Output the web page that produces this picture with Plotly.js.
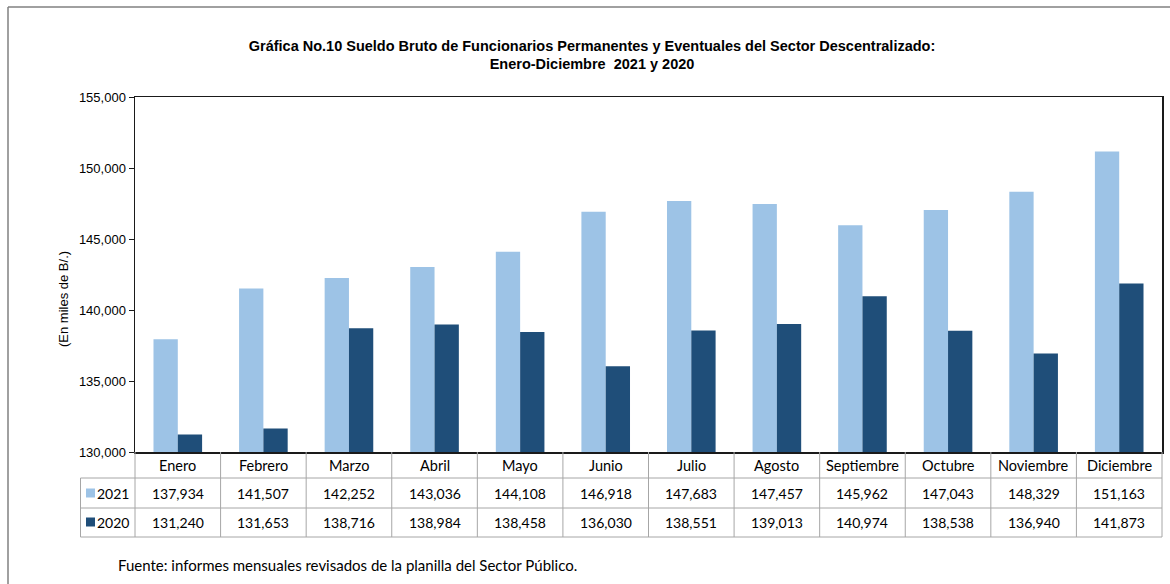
<!DOCTYPE html>
<html>
<head>
<meta charset="utf-8">
<script src="https://cdn.plot.ly/plotly-3.0.1.min.js"></script>
<style>html,body{margin:0;padding:0;background:#fff;}#chart{width:1170px;height:584px;}</style>
</head>
<body>
<div id="chart"></div>
<script>
const months = ['Enero','Febrero','Marzo','Abril','Mayo','Junio','Julio','Agosto','Septiembre','Octubre','Noviembre','Diciembre'];
const values2021 = [137934,141507,142252,143036,144108,146918,147683,147457,145962,147043,148329,151163];
const values2020 = [131240,131653,138716,138984,138458,136030,138551,139013,140974,138538,136940,141873];
const seriesNames = ['2021','2020'];
const yTicks = [130000,135000,140000,145000,150000,155000];
const titleText = 'Gráfica No.10 Sueldo Bruto de Funcionarios Permanentes y Eventuales del Sector Descentralizado:<br>Enero-Diciembre  2021 y 2020';
const yTitle = '(En miles de B/.)';
const sourceText = 'Fuente: informes mensuales revisados de la planilla del Sector Público.';

const colors = ['#9DC3E6','#1F4E79'];
const W = 1170, H = 584;
const L = 135, R = 1162, T = 97, B = 452;
const px = x => (x - L) / (R - L);
const py = y => (B - y) / (B - T);
const tableFont = {family:'Lato, Carlito, Calibri, sans-serif', size:14, color:'#000'};
const headFont = {family:'Lato, Carlito, Calibri, sans-serif', size:14.5, color:'#000'};
const srcFont = {family:'Lato, Carlito, Calibri, sans-serif', size:15, color:'#000'};
const gridCol = '#a6a6a6';

const fmt = v => v.toLocaleString('en-US');

const traces = [values2021, values2020].map((vals, k) => ({
  type:'bar', x: months, y: vals, name: seriesNames[k],
  marker:{color: colors[k], line:{width:0}},
  hoverinfo:'x+y'
}));

const annotations = [];
const shapes = [];
const rowCenters = [py(465), py(493), py(522)];
months.forEach((m, i) => {
  annotations.push({x:m, xref:'x', y:rowCenters[0], yref:'paper', text:m, showarrow:false, font:headFont, xanchor:'center', yanchor:'middle'});
  annotations.push({x:m, xref:'x', y:rowCenters[1], yref:'paper', text:fmt(values2021[i]), showarrow:false, font:tableFont, xanchor:'center', yanchor:'middle'});
  annotations.push({x:m, xref:'x', y:rowCenters[2], yref:'paper', text:fmt(values2020[i]), showarrow:false, font:tableFont, xanchor:'center', yanchor:'middle'});
});
seriesNames.forEach((s, k) => {
  annotations.push({x:px(95), xref:'paper', y:rowCenters[k+1], yref:'paper', text:s, showarrow:false, font:tableFont, xanchor:'left', yanchor:'middle'});
  shapes.push({type:'rect', xref:'paper', yref:'paper', x0:px(86), x1:px(95), y0:rowCenters[k+1]-4.5/(B-T), y1:rowCenters[k+1]+4.5/(B-T), fillcolor:colors[k], line:{width:0}});
});
const n = months.length;
for (let k = 0; k <= n; k++) {
  shapes.push({type:'line', xref:'paper', yref:'paper', x0:k/n, x1:k/n, y0:0, y1:py(537), line:{color:gridCol, width:1}});
}
[478, 508, 537].forEach(yy => {
  shapes.push({type:'line', xref:'paper', yref:'paper', x0:px(80.5), x1:1, y0:py(yy), y1:py(yy), line:{color:gridCol, width:1}});
});
shapes.push({type:'line', xref:'paper', yref:'paper', x0:px(80.5), x1:px(80.5), y0:py(478), y1:py(537), line:{color:gridCol, width:1}});
shapes.push({type:'line', xref:'paper', yref:'paper', x0:px(8), x1:px(1170), y0:py(7), y1:py(7), line:{color:'#808080', width:1.5}});
shapes.push({type:'line', xref:'paper', yref:'paper', x0:px(8), x1:px(8), y0:py(7), y1:py(584), line:{color:'#808080', width:1.5}});

annotations.push({x:px(63), xref:'paper', y:py(299), yref:'paper', text:yTitle, textangle:-90, showarrow:false, font:{family:'Liberation Sans, Arial, sans-serif', size:13, color:'#000'}, xanchor:'center', yanchor:'middle'});
annotations.push({x:px(116), xref:'paper', y:py(565), yref:'paper', text:sourceText, showarrow:false, font:srcFont, xanchor:'left', yanchor:'middle'});

const layout = {
  width: W, height: H,
  margin: {l:L, r:W-R, t:T, b:H-B, pad:0},
  paper_bgcolor:'#fff', plot_bgcolor:'#fff',
  title: {text:titleText, x:0.506, xanchor:'center', y:1-50.5/H, yanchor:'middle', yref:'container',
          font:{family:'Liberation Sans Narrow, Arial Narrow, Liberation Sans, sans-serif', size:14.5, color:'#000', weight:'bold'}},
  showlegend:false,
  barmode:'group', bargap:0.432, bargroupgap:0,
  xaxis: {type:'category', showticklabels:false, ticks:'', showline:true, linecolor:'#1a1a1a', linewidth:1.5, mirror:true, showgrid:false, zeroline:false, fixedrange:true},
  yaxis: {range:[130000,155000], tickvals:yTicks, ticktext:yTicks.map(fmt), ticks:'outside', ticklen:5, tickcolor:'#1a1a1a',
          showline:true, linecolor:'#1a1a1a', linewidth:1.5, mirror:true, showgrid:false, zeroline:false,
          tickfont:{family:'Liberation Sans, Arial, sans-serif', size:13, color:'#000'}},
  annotations, shapes
};
Plotly.newPlot('chart', traces, layout, {displayModeBar:false, staticPlot:true});
</script>
</body>
</html>
